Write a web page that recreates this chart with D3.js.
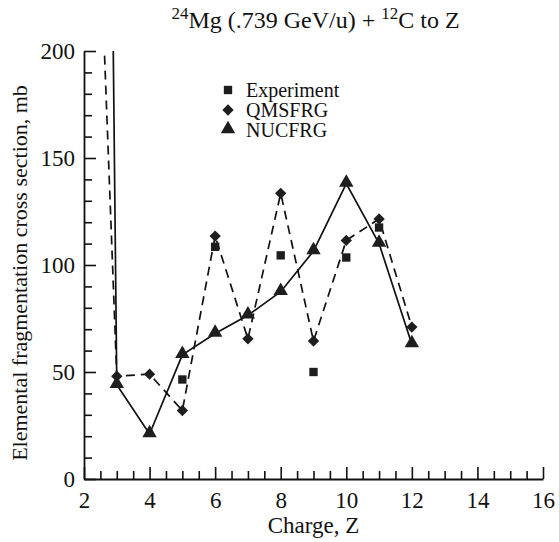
<!DOCTYPE html>
<html>
<head>
<meta charset="utf-8">
<script src="https://cdn.jsdelivr.net/npm/d3@7"></script>
<style>
  body { margin: 0; background: #fff; }
</style>
</head>
<body>
<div id="chart"></div>
<script>
// ---- data ----
const charges = [2, 3, 4, 5, 6, 7, 8, 9, 10, 11, 12];
const experiment = [
  { z: 5, v: 46.5 }, { z: 6, v: 108.5 }, { z: 8, v: 104.5 }, { z: 9, v: 50 },
  { z: 10, v: 103.5 }, { z: 11, v: 117.5 }
];
const qmsfrg = [450, 48, 49, 32, 113.5, 65.5, 133.5, 64.5, 111.5, 121.5, 71];
const nucfrg = [1500, 44, 21, 58, 68, 76.5, 87.5, 106.5, 138, 110, 63];
const xMajorTicks = [2, 4, 6, 8, 10, 12, 14, 16];
const yMajorTicks = [0, 50, 100, 150, 200];
const legendNames = ["Experiment", "QMSFRG", "NUCFRG"];

const W = 559, H = 542;
const margin = { left: 84, right: 16, top: 51, bottom: 63 };
const serif = "Liberation Serif";

const svg = d3.select("#chart").append("svg")
  .attr("width", W).attr("height", H)
  .style("font-family", serif);

const x = d3.scaleLinear().domain([2, 16]).range([margin.left, W - margin.right]);
const y = d3.scaleLinear().domain([0, 200]).range([H - margin.bottom, margin.top]);

// clip lines to the plotting area
svg.append("clipPath").attr("id", "plot-clip")
  .append("rect")
  .attr("x", x(2)).attr("y", y(200))
  .attr("width", x(16) - x(2)).attr("height", y(0) - y(200));

/* ---------------- axes ---------------- */
const minorX = d3.range(2, 16.01, 0.5).filter(d => d % 2 !== 0);
const minorY = d3.range(0, 200.01, 10).filter(d => d % 50 !== 0);

svg.append("g")
  .attr("transform", `translate(0,${y(0)})`)
  .call(d3.axisBottom(x).tickValues(minorX).tickSize(-8).tickSizeOuter(0).tickFormat(""))
  .call(g => g.select(".domain").remove());

const xAxisG = svg.append("g")
  .attr("transform", `translate(0,${y(0)})`)
  .call(d3.axisBottom(x).tickValues(xMajorTicks).tickSize(-12).tickSizeOuter(0).tickPadding(13));

svg.append("g")
  .attr("transform", `translate(${x(2)},0)`)
  .call(d3.axisLeft(y).tickValues(minorY).tickSize(-8).tickSizeOuter(0).tickFormat(""))
  .call(g => g.select(".domain").remove());

const yAxisG = svg.append("g")
  .attr("transform", `translate(${x(2)},0)`)
  .call(d3.axisLeft(y).tickValues(yMajorTicks).tickSize(-12).tickSizeOuter(0).tickPadding(9));

svg.selectAll(".tick line").attr("stroke", "#111").attr("stroke-width", 1.6);
svg.selectAll(".domain").attr("stroke", "#111").attr("stroke-width", 1.8);
[xAxisG, yAxisG].forEach(g => {
  g.attr("font-family", null).attr("font-size", null);
  g.selectAll(".tick text")
    .style("font-family", serif)
    .style("font-size", "23px")
    .attr("fill", "#111");
});

// axis titles
svg.append("text")
  .attr("x", (x(2) + x(16)) / 2).attr("y", 533)
  .attr("text-anchor", "middle")
  .style("font-family", serif).style("font-size", "23px")
  .attr("fill", "#111")
  .text("Charge, Z");

svg.append("text")
  .attr("transform", `translate(27,${(y(0) + y(200)) / 2 + 8}) rotate(-90)`)
  .attr("text-anchor", "middle")
  .style("font-family", serif).style("font-size", "22px")
  .attr("fill", "#111")
  .text("Elemental fragmentation cross section, mb");

// title with superscripts
const title = svg.append("text")
  .attr("x", (x(2) + x(16)) / 2 + 2).attr("y", 28)
  .attr("text-anchor", "middle")
  .style("font-family", serif).style("font-size", "24px")
  .attr("fill", "#111");
title.append("tspan").attr("dy", -9).style("font-size", "17px").text("24");
title.append("tspan").attr("dy", 9).text("Mg (.739 GeV/u) + ");
title.append("tspan").attr("dy", -9).style("font-size", "17px").text("12");
title.append("tspan").attr("dy", 9).text("C to Z");

/* ---------------- series ---------------- */
const plot = svg.append("g").attr("clip-path", "url(#plot-clip)");

const line = d3.line().x((d, i) => x(charges[i])).y(d => y(d));

plot.append("path")
  .datum(nucfrg)
  .attr("d", line)
  .attr("fill", "none")
  .attr("stroke", "#111")
  .attr("stroke-width", 1.7);

plot.append("path")
  .datum(qmsfrg)
  .attr("d", line)
  .attr("fill", "none")
  .attr("stroke", "#111")
  .attr("stroke-width", 1.7)
  .attr("stroke-dasharray", "9,6");

const markFill = "#1e1e1e";
const square = d3.symbol().type(d3.symbolSquare).size(70);
const diamond = d3.symbol().type(d3.symbolSquare).size(64); // rotated 45deg below
const triangle = d3.symbol().type(d3.symbolTriangle).size(90);

const pts = (arr) => arr.map((v, i) => ({ z: charges[i], v })).filter(d => d.v <= 200);

plot.selectAll(".nuc").data(pts(nucfrg)).enter().append("path")
  .attr("class", "nuc")
  .attr("transform", d => `translate(${x(d.z)},${y(d.v) - 1})`)
  .attr("d", triangle).attr("fill", markFill);

plot.selectAll(".qms").data(pts(qmsfrg)).enter().append("path")
  .attr("class", "qms")
  .attr("transform", d => `translate(${x(d.z)},${y(d.v)}) rotate(45)`)
  .attr("d", diamond).attr("fill", markFill);

plot.selectAll(".exp").data(experiment).enter().append("path")
  .attr("class", "exp")
  .attr("transform", d => `translate(${x(d.z)},${y(d.v)})`)
  .attr("d", square).attr("fill", markFill);

/* ---------------- legend ---------------- */
const legendSymbols = [square, diamond, triangle];
const legendTurn = [null, "rotate(45)", "translate(0,-1)"];
const legend = svg.append("g").attr("transform", "translate(228,90)");
legendNames.forEach((name, i) => {
  const row = legend.append("g").attr("transform", `translate(0,${i * 20})`);
  row.append("path").attr("d", legendSymbols[i]).attr("fill", markFill)
    .attr("transform", legendTurn[i]);
  row.append("text").attr("x", 18).attr("y", 7)
    .style("font-family", serif).style("font-size", "20px")
    .attr("fill", "#111")
    .text(name);
});
</script>
</body>
</html>
